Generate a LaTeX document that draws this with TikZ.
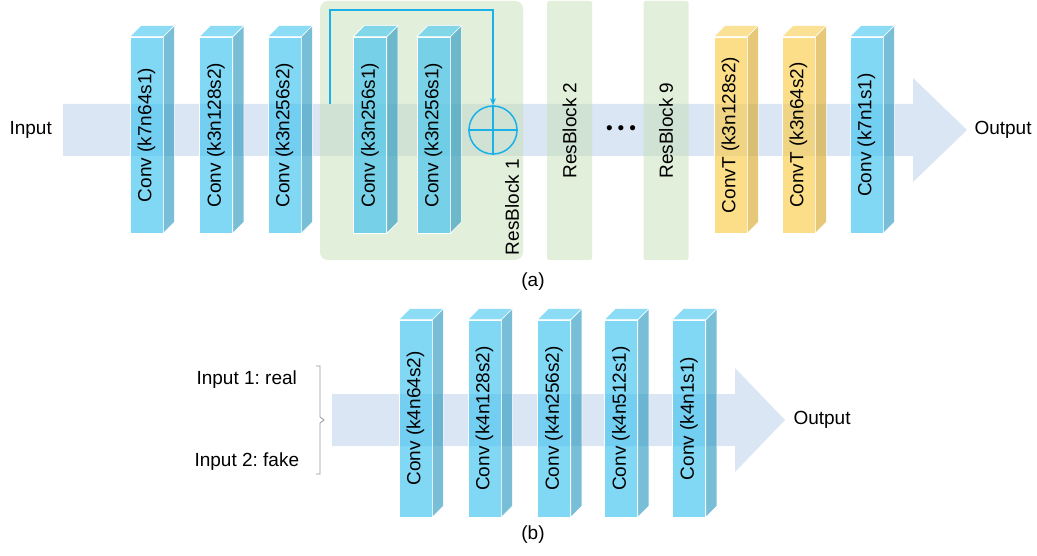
\documentclass[tikz,border=0pt]{standalone}
\usepackage{fontspec}
\setmainfont{Liberation Sans}
\usepackage{graphicx}
\usepackage{tikz}
\usetikzlibrary{arrows.meta}
\frenchspacing

\definecolor{bandblue}{RGB}{162,192,225}
\definecolor{resgreen}{RGB}{197,223,181}
\definecolor{convfront}{RGB}{60,195,240}
\definecolor{convside}{RGB}{48,155,194}
\definecolor{convtop}{RGB}{78,201,240}
\definecolor{convtfront}{RGB}{252,205,72}
\definecolor{convtside}{RGB}{216,171,48}
\definecolor{convttop}{RGB}{248,209,94}
\definecolor{skipblue}{RGB}{26,176,232}
\definecolor{bracegray}{RGB}{150,150,150}

\begin{document}
\begin{tikzpicture}
            [
            x=1pt,y=-1pt,
            font=\fontsize{19}{22}\selectfont,
            band/.style={fill=bandblue,fill opacity=.4},
            resbox/.style={fill=resgreen,fill opacity=.5,text opacity=1,
                rounded corners=8pt,inner sep=0pt,
                minimum width=203,minimum height=259},
            resbar/.style={fill=resgreen,fill opacity=.5,text opacity=1,
                rounded corners=2pt,inner sep=0pt,
                minimum width=45,minimum height=259},
            conv/.style={fill=convfront,fill opacity=.65,text opacity=1,
                draw=white,line width=.6pt,inner sep=0pt,
                minimum width=33,minimum height=196},
            convt/.style={conv,fill=convtfront},
            bside/.style={fill=convside,fill opacity=.65,draw=white,line width=.6pt},
            btop/.style={fill=convtop,fill opacity=.65,draw=white,line width=.6pt},
            yside/.style={fill=convtside,fill opacity=.65,draw=white,line width=.6pt},
            ytop/.style={fill=convttop,fill opacity=.65,draw=white,line width=.6pt},
            skip/.style={draw=skipblue,line width=1.5pt},
            ]
            \useasboundingbox (0,0) rectangle (1037,556);

            % Data flow arrows
            \fill[band] (63,104) -- (913,104) -- (913,78) -- (967,130)
                -- (913,182) -- (913,156) -- (63,156) -- cycle;
            \fill[band] (332,394) -- (735,394) -- (735,368) -- (785,420)
                -- (735,472) -- (735,446) -- (332,446) -- cycle;

            % Residual blocks
            \node[resbox] (rb1) at (421.5,130.5) {};
            \node[resbar] (rb2) at (569.5,130.5) {\rotatebox{90}{ResBlock 2}};
            \node[resbar] (rb9) at (666,130.5) {\rotatebox{90}{ResBlock 9}};
            \node[rotate=90] (rb1label) at (512,207) {ResBlock 1};
            \node (dots) at (621,130)
                {\textbullet\hspace{5pt}\textbullet\hspace{5pt}\textbullet};

            % Generator
            \node[conv] (c1) at (146.5,135) {\rotatebox{90}{Conv (k7n64s1)}};
            \node[conv] (c2) at (216,135) {\rotatebox{90}{Conv (k3n128s2)}};
            \node[conv] (c3) at (284.5,135) {\rotatebox{90}{Conv (k3n256s2)}};
            \node[conv] (c4) at (370,135) {\rotatebox{90}{Conv (k3n256s1)}};
            \node[conv] (c5) at (433.5,135) {\rotatebox{90}{Conv (k3n256s1)}};
            \node[convt] (t1) at (730.5,135) {\rotatebox{90}{ConvT (k3n128s2)}};
            \node[convt] (t2) at (798.5,135) {\rotatebox{90}{ConvT (k3n64s2)}};
            \node[conv] (c6) at (866.5,135) {\rotatebox{90}{Conv (k7n1s1)}};

            % Discriminator
            \node[conv,minimum height=197] (d1) at (415.5,418.5) {\rotatebox{90}{Conv (k4n64s2)}};
            \node[conv,minimum height=197] (d2) at (484.5,418.5) {\rotatebox{90}{Conv (k4n128s2)}};
            \node[conv,minimum height=197] (d3) at (554,418.5) {\rotatebox{90}{Conv (k4n256s2)}};
            \node[conv,minimum height=197] (d4) at (621,418.5) {\rotatebox{90}{Conv (k4n512s1)}};
            \node[conv,minimum height=197] (d5) at (689,418.5) {\rotatebox{90}{Conv (k4n1s1)}};

            % Box depth
            \foreach \b in {c1,c2,c3,c4,c5,c6,d1,d2,d3,d4,d5}{
                \filldraw[bside] (\b.north east) -- ++(11,-11)
                    -- ([shift={(11,-11)}]\b.south east) -- (\b.south east) -- cycle;
                \filldraw[btop] (\b.north west) -- ++(11,-11)
                    -- ([shift={(11,-11)}]\b.north east) -- (\b.north east) -- cycle;
            }
            \foreach \b in {t1,t2}{
                \filldraw[yside] (\b.north east) -- ++(11,-11)
                    -- ([shift={(11,-11)}]\b.south east) -- (\b.south east) -- cycle;
                \filldraw[ytop] (\b.north west) -- ++(11,-11)
                    -- ([shift={(11,-11)}]\b.north east) -- (\b.north east) -- cycle;
            }

            % Skip connection
            \node[circle,skip,minimum size=48,inner sep=0pt] (plus) at (493,130) {};
            \draw[skip] (plus.north) -- (plus.south);
            \draw[skip] (plus.west) -- (plus.east);
            \coordinate (skipstart) at (330,104);
            \draw[skip,-{Stealth[length=7pt,width=6pt]}] (skipstart) |- (493,10) -- (plus.north);

            % Labels
            \node[anchor=west] (in) at (6,130) {Input};
            \node[anchor=west] (out) at (971,130) {Output};
            \node[anchor=west] (real) at (193,380) {Input 1: real};
            \node[anchor=west] (fake) at (191,462) {Input 2: fake};
            \node[anchor=west] (dout) at (790,420) {Output};
            \draw[bracegray,line width=.8pt] (316,366) -- (320,366) -- (320,417)
                -- (324,420) -- (320,423) -- (320,474) -- (316,474);
            \node (capa) at (533,282) {(a)};
            \node (capb) at (533,535) {(b)};
        \end{tikzpicture}
\end{document}
